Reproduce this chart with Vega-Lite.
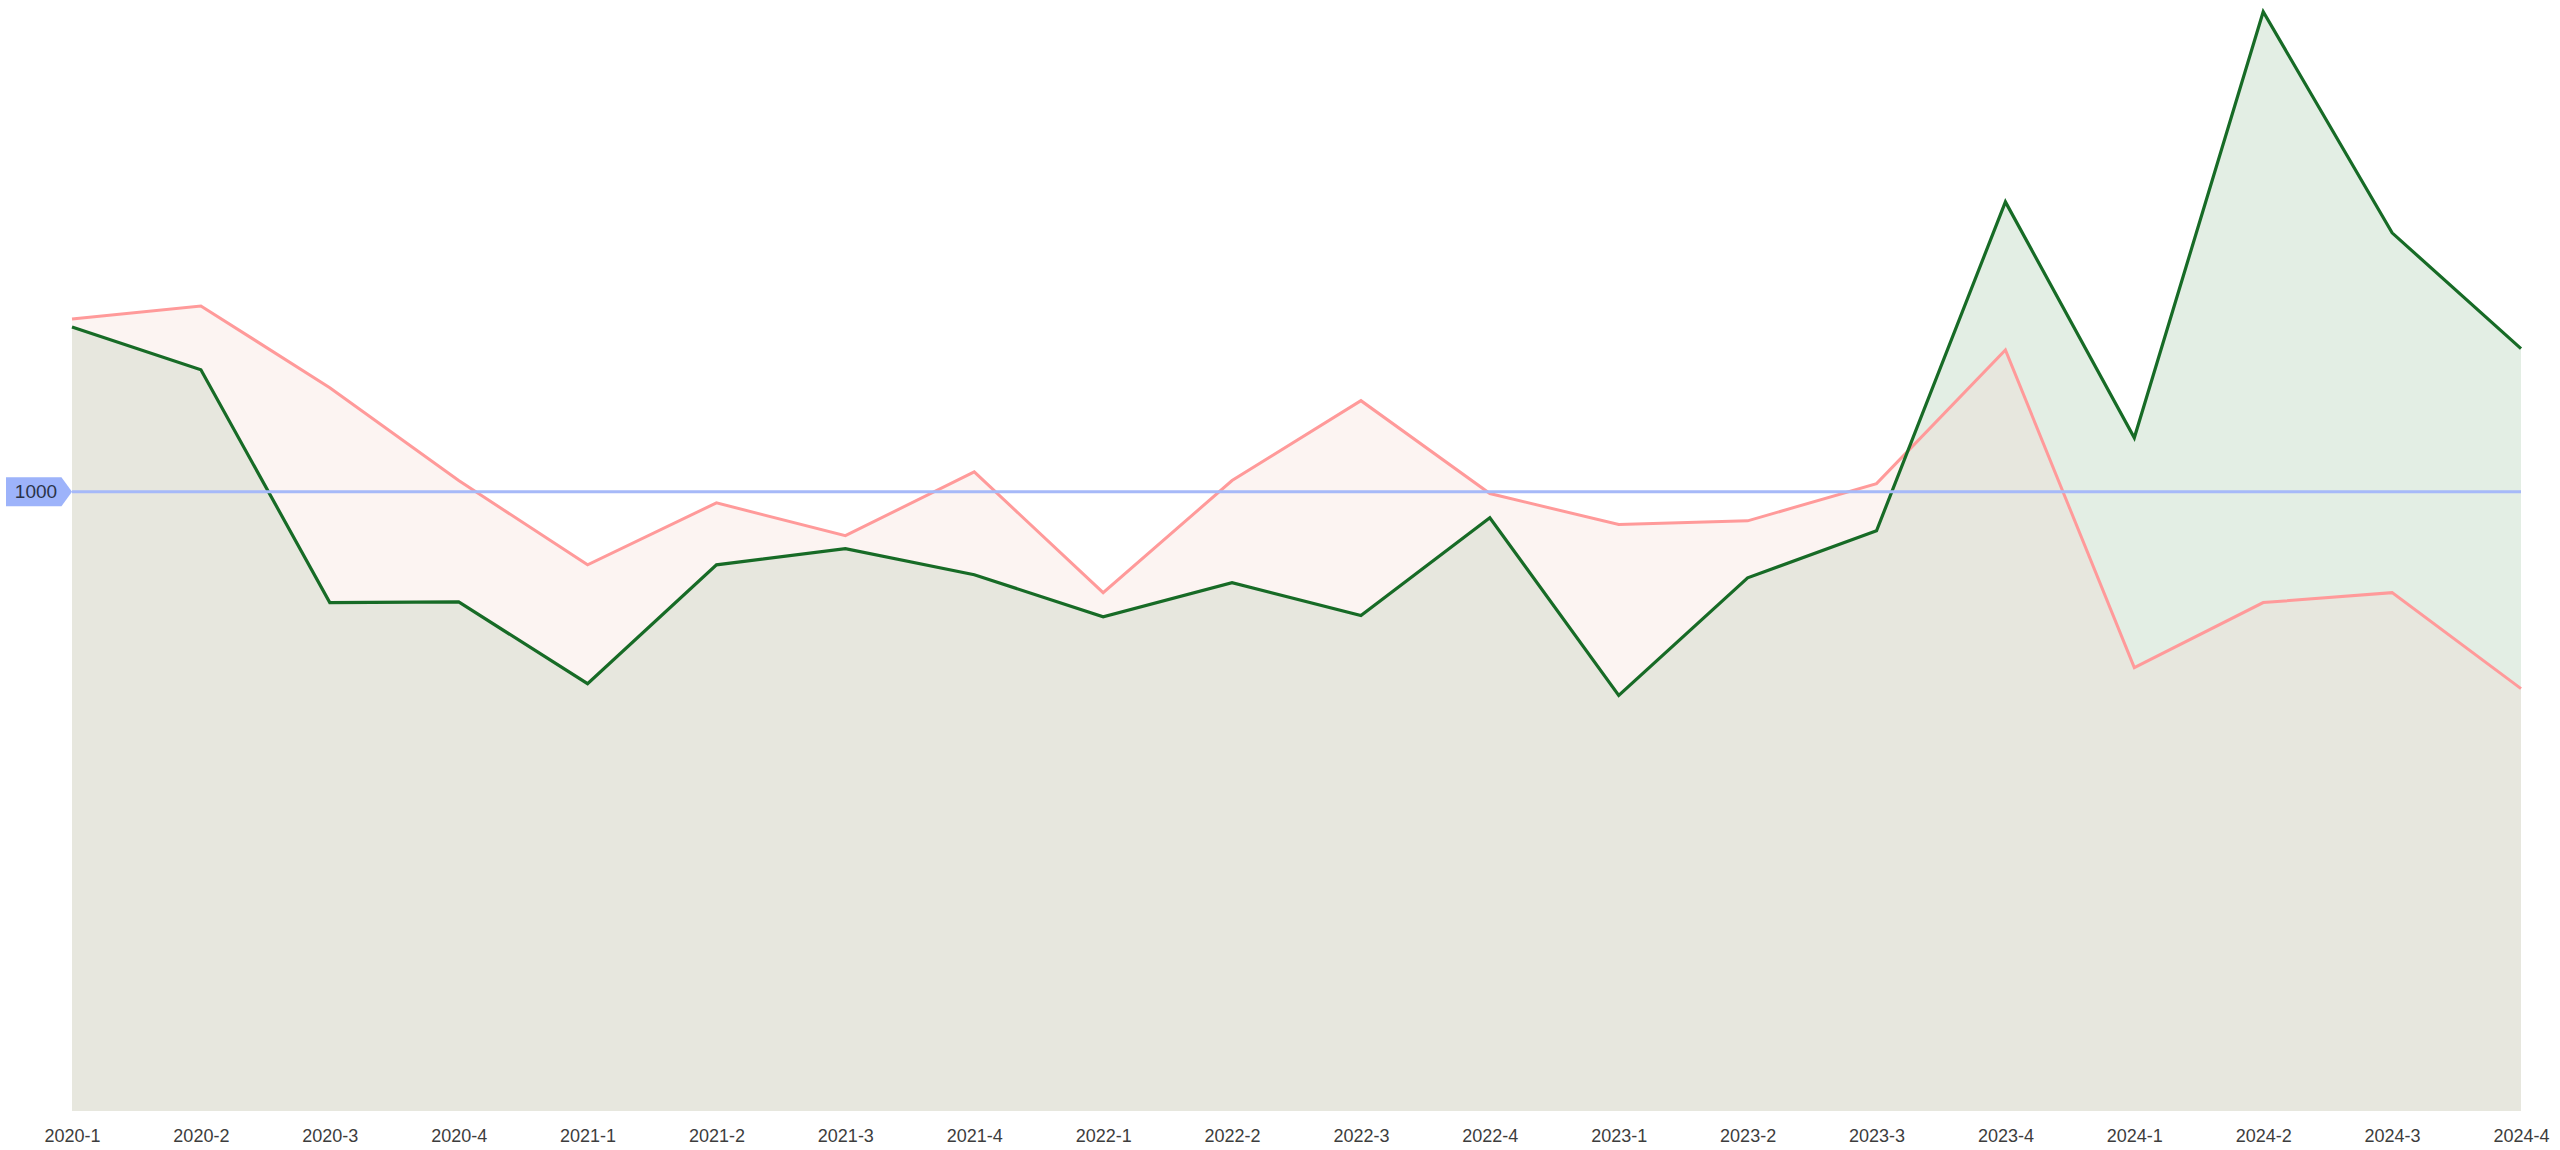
{
  "$schema": "https://vega.github.io/schema/vega-lite/v6.json",
  "width": 2449,
  "height": 1111,
  "autosize": {"type": "none"},
  "padding": {"left": 72, "top": 0, "right": 39, "bottom": 39},
  "background": "white",
  "config": {"view": {"stroke": null}},
  "datasets": {
    "main": [
      {"q": "2020-1", "series": "B", "value": 1279},
      {"q": "2020-2", "series": "B", "value": 1300},
      {"q": "2020-3", "series": "B", "value": 1168},
      {"q": "2020-4", "series": "B", "value": 1018},
      {"q": "2021-1", "series": "B", "value": 882},
      {"q": "2021-2", "series": "B", "value": 982},
      {"q": "2021-3", "series": "B", "value": 929},
      {"q": "2021-4", "series": "B", "value": 1032},
      {"q": "2022-1", "series": "B", "value": 837},
      {"q": "2022-2", "series": "B", "value": 1018},
      {"q": "2022-3", "series": "B", "value": 1147},
      {"q": "2022-4", "series": "B", "value": 997},
      {"q": "2023-1", "series": "B", "value": 947},
      {"q": "2023-2", "series": "B", "value": 953},
      {"q": "2023-3", "series": "B", "value": 1013},
      {"q": "2023-4", "series": "B", "value": 1229},
      {"q": "2024-1", "series": "B", "value": 716},
      {"q": "2024-2", "series": "B", "value": 821},
      {"q": "2024-3", "series": "B", "value": 837},
      {"q": "2024-4", "series": "B", "value": 682},
      {"q": "2020-1", "series": "A", "value": 1266},
      {"q": "2020-2", "series": "A", "value": 1197},
      {"q": "2020-3", "series": "A", "value": 821},
      {"q": "2020-4", "series": "A", "value": 822},
      {"q": "2021-1", "series": "A", "value": 690},
      {"q": "2021-2", "series": "A", "value": 882},
      {"q": "2021-3", "series": "A", "value": 908},
      {"q": "2021-4", "series": "A", "value": 866},
      {"q": "2022-1", "series": "A", "value": 798},
      {"q": "2022-2", "series": "A", "value": 853},
      {"q": "2022-3", "series": "A", "value": 800},
      {"q": "2022-4", "series": "A", "value": 958},
      {"q": "2023-1", "series": "A", "value": 671},
      {"q": "2023-2", "series": "A", "value": 861},
      {"q": "2023-3", "series": "A", "value": 937},
      {"q": "2023-4", "series": "A", "value": 1468},
      {"q": "2024-1", "series": "A", "value": 1087},
      {"q": "2024-2", "series": "A", "value": 1775},
      {"q": "2024-3", "series": "A", "value": 1418},
      {"q": "2024-4", "series": "A", "value": 1231}
    ]
  },
  "data": {"name": "main"},
  "encoding": {
    "x": {
      "field": "q", "type": "ordinal",
      "scale": {"type": "point", "padding": 0},
      "axis": {
        "title": null, "labelAngle": 0, "domain": false, "ticks": false,
        "labelPadding": 16, "labelFontSize": 18, "labelFont": "Liberation Sans",
        "labelColor": "#3d3d3d", "grid": false
      }
    },
    "y": {
      "field": "value", "type": "quantitative",
      "scale": {"domain": [0, 1794], "nice": false, "zero": true},
      "axis": null
    }
  },
  "layer": [
    {"mark": {"type": "area", "fill": "#e3eee4", "fillOpacity": 1, "line": false}, "transform": [{"filter": "datum.series == 'A'"}]},
    {"mark": {"type": "area", "fill": "#f5d2cd", "fillOpacity": 0.25, "line": false}, "transform": [{"filter": "datum.series == 'B'"}]},
    {"mark": {"type": "line", "strokeWidth": 3, "stroke": "#ff9a9a"}, "transform": [{"filter": "datum.series == 'B'"}]},
    {"mark": {"type": "line", "strokeWidth": 3.2, "stroke": "#176b26"}, "transform": [{"filter": "datum.series == 'A'"}]},
    {
      "data": {"values": [{"v": 1000}]},
      "mark": {"type": "rule", "color": "#a6b9f8", "strokeWidth": 3},
      "encoding": {"y": {"field": "v", "type": "quantitative"}, "x": null}
    },
    {
      "data": {"values": [{"v": 1000, "q": "2020-1", "label": "1000"}]},
      "mark": {"type": "point", "shape": "M-1,-0.44L0.68,-0.44L1,0L0.68,0.44L-1,0.44Z", "size": 4356, "filled": true, "fill": "#9db3fa", "opacity": 1, "xOffset": -33},
      "encoding": {"y": {"field": "v", "type": "quantitative"}}
    },
    {
      "data": {"values": [{"v": 1000, "q": "2020-1", "label": "1000"}]},
      "mark": {"type": "text", "fontSize": 19, "font": "Liberation Sans", "color": "#2b3349", "xOffset": -36, "align": "center", "baseline": "middle"},
      "encoding": {"y": {"field": "v", "type": "quantitative"}, "text": {"field": "label"}}
    }
  ]
}
